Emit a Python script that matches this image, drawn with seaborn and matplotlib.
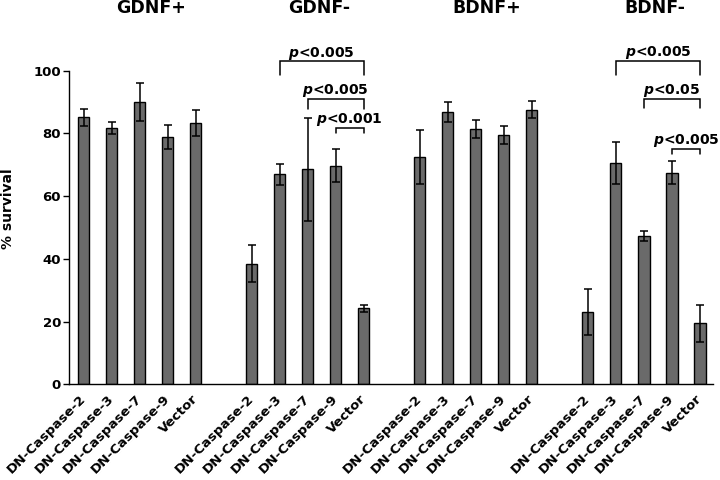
import matplotlib
matplotlib.use("Agg")
import matplotlib.pyplot as plt
import seaborn as sns
import pandas as pd
import numpy as np

groups = ["GDNF+", "GDNF-", "BDNF+", "BDNF-"]
conditions = ["DN-Caspase-2", "DN-Caspase-3", "DN-Caspase-7", "DN-Caspase-9", "Vector"]

gdnf_pos = [85.1, 81.7, 90.0, 78.8, 83.3]
gdnf_pos_err = [2.6, 2.0, 6.0, 3.8, 4.1]
gdnf_neg = [38.4, 67.0, 68.5, 69.7, 24.2]
gdnf_neg_err = [5.9, 3.3, 16.5, 5.3, 1.0]
bdnf_pos = [72.4, 86.9, 81.4, 79.5, 87.5]
bdnf_pos_err = [8.6, 3.2, 3.0, 3.0, 2.7]
bdnf_neg = [23.0, 70.7, 47.3, 67.5, 19.4]
bdnf_neg_err = [7.4, 6.7, 1.7, 3.6, 5.8]

# significance: (cond_from, cond_to, label)
sig_gdnf_neg = [(1, 4, "<0.005"), (2, 4, "<0.005"), (3, 4, "<0.001")]
sig_bdnf_neg = [(1, 4, "<0.005"), (2, 4, "<0.05"), (3, 4, "<0.005")]

sns.set_theme(style="white")
plt.rcParams['font.family'] = ['DejaVu Sans']
plt.rcParams['mathtext.fontset'] = 'custom'
plt.rcParams['mathtext.it'] = 'DejaVu Sans:italic:bold'
for k in ["text.color", "axes.labelcolor", "xtick.color", "ytick.color", "axes.edgecolor"]:
    plt.rcParams[k] = "black"

means = [gdnf_pos, gdnf_neg, bdnf_pos, bdnf_neg]
errs = [gdnf_pos_err, gdnf_neg_err, bdnf_pos_err, bdnf_neg_err]
rows = []
for gi, g in enumerate(groups):
    for ci, c in enumerate(conditions):
        rows.append(dict(group=g, cond=c, pos=gi * 6 + ci,
                         value=means[gi][ci], err=errs[gi][ci]))
df = pd.DataFrame(rows)

fig = plt.figure(figsize=(7.2, 4.8), dpi=100)
ax = fig.add_axes([0.0963, 0.1994, 0.8937, 0.6533])

sns.barplot(data=df, x="pos", y="value", native_scale=True, width=0.4,
            color="#6a6a6a", saturation=1, edgecolor="black", linewidth=1,
            errorbar=None, ax=ax)
ax.errorbar(df["pos"], df["value"], yerr=df["err"], fmt="none",
            ecolor="black", elinewidth=1.1, capsize=2.6, capthick=1.1, zorder=3)

ax.set_xlim(-0.514, 22.46)
ax.set_ylim(0, 100)
ax.set_yticks([0, 20, 40, 60, 80, 100])
ax.set_yticklabels(["0", "20", "40", "60", "80", "100"], fontsize=9.5, fontweight="bold")
ax.set_xticks(df["pos"])
ax.set_xticklabels(df["cond"], rotation=45, ha="right", va="center",
                   rotation_mode="anchor", fontsize=9.6, fontweight="bold")
ax.tick_params(axis="y", left=True, length=4, width=1, color="black", pad=2)
ax.tick_params(axis="x", bottom=False, pad=3)
ax.set_xlabel("")
ax.set_ylabel("% survival", fontsize=10, fontweight="bold")
ax.yaxis.set_label_coords(-0.084, 0.56)
for s in ["top", "right"]:
    ax.spines[s].set_visible(False)
for s in ["left", "bottom"]:
    ax.spines[s].set_color("black")
    ax.spines[s].set_linewidth(1)

# group titles
for gi, g in enumerate(groups):
    ax.text(gi * 6 + 2.4, 120, g, ha="center", va="center", fontsize=12.5,
            fontweight="bold", clip_on=False)

def bracket(gi, c1, c2, top, leg, label, ty):
    x1, x2 = gi * 6 + c1, gi * 6 + c2
    ax.plot([x1, x1, x2, x2], [top - leg, top, top, top - leg], color="black",
            lw=1.1, clip_on=False, solid_joinstyle="miter")
    ax.text((x1 + x2) / 2, ty, r"$p$" + label, ha="center", va="baseline",
            fontsize=10, fontweight="bold", clip_on=False)

gdnf_tops = [(103.0, 4.5, 104.5), (91.1, 3.2, 92.6), (81.8, 1.6, 83.3)]
bdnf_tops = [(103.1, 4.5, 104.6), (91.1, 3.1, 92.6), (75.0, 1.5, 76.5)]
for (c1, c2, lab), (t, l, ty) in zip(sig_gdnf_neg, gdnf_tops):
    bracket(1, c1, c2, t, l, lab, ty)
for (c1, c2, lab), (t, l, ty) in zip(sig_bdnf_neg, bdnf_tops):
    bracket(3, c1, c2, t, l, lab, ty)

fig.savefig("out.png", dpi=100)
